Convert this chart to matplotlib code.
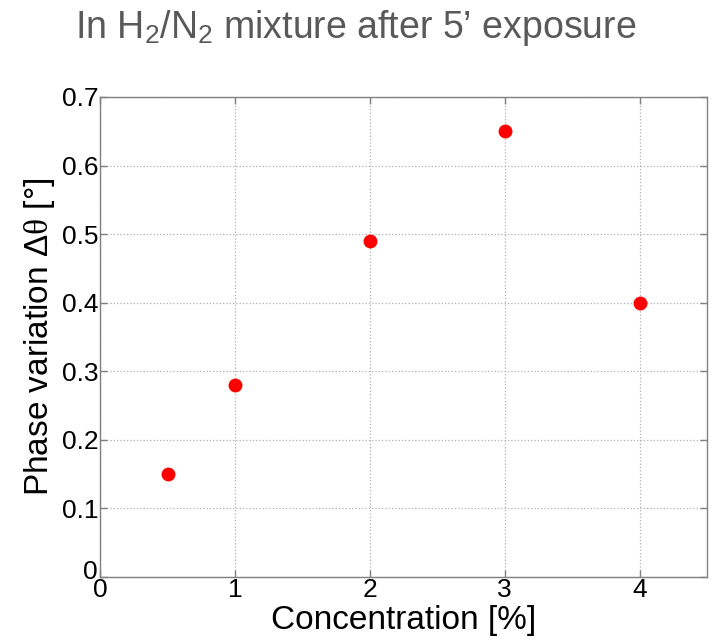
import matplotlib
matplotlib.use("Agg")
import matplotlib.pyplot as plt
import matplotlib.transforms as mtransforms

concentration = [0.5, 1, 2, 3, 4]
phase_variation = [0.15, 0.28, 0.49, 0.65, 0.40]
xticks = [0, 1, 2, 3, 4]
yticks = [0, 0.1, 0.2, 0.3, 0.4, 0.5, 0.6, 0.7]

plt.rcParams['font.family'] = ['Liberation Sans', 'DejaVu Sans']
plt.rcParams['mathtext.fontset'] = 'custom'
plt.rcParams['mathtext.rm'] = 'Liberation Sans'
plt.rcParams['mathtext.it'] = 'Liberation Serif'

fig = plt.figure(figsize=(7.15, 6.41), dpi=100)
ax = fig.add_axes([0.14, 0.0998, 0.849, 0.749])

ax.plot(concentration, phase_variation, 'o', color='#ff0000', markersize=10, markeredgewidth=0)
ax.set_xlim(0, 4.5)
ax.set_ylim(0, 0.7)
ax.set_xticks(xticks)
ax.set_yticks(yticks)
ax.set_xticklabels([str(t) for t in xticks])
ax.set_yticklabels(['0'] + [f'{t:.1f}' for t in yticks[1:]])
ax.grid(True, linestyle=':', color='#b0b0b0', linewidth=0.9)
ax.tick_params(direction='in', length=5, width=1, color='#808080', labelsize=19,
               top=True, right=True, pad=1)
for s in ax.spines.values():
    s.set_color('#808080')
    s.set_linewidth(1)

# lift the y "0" label slightly so it sits above the x "0", as in the reference
lbl0 = ax.get_yticklabels()[0]
lbl0.set_transform(lbl0.get_transform() + mtransforms.ScaledTranslation(-1 / 100, 8 / 100, fig.dpi_scale_trans))

ax.set_xlabel('Concentration [%]', fontsize=24, labelpad=2)
ax.set_ylabel(r'Phase variation $\mathit{\Delta\theta}$ [°]', fontsize=24, labelpad=4)

fig.text(0.497, 0.957, r'In H$_2$/N$_2$ mixture after 5’ exposure', fontsize=27,
         color='#595959', ha='center', va='center')

fig.savefig('out.png', dpi=100)
